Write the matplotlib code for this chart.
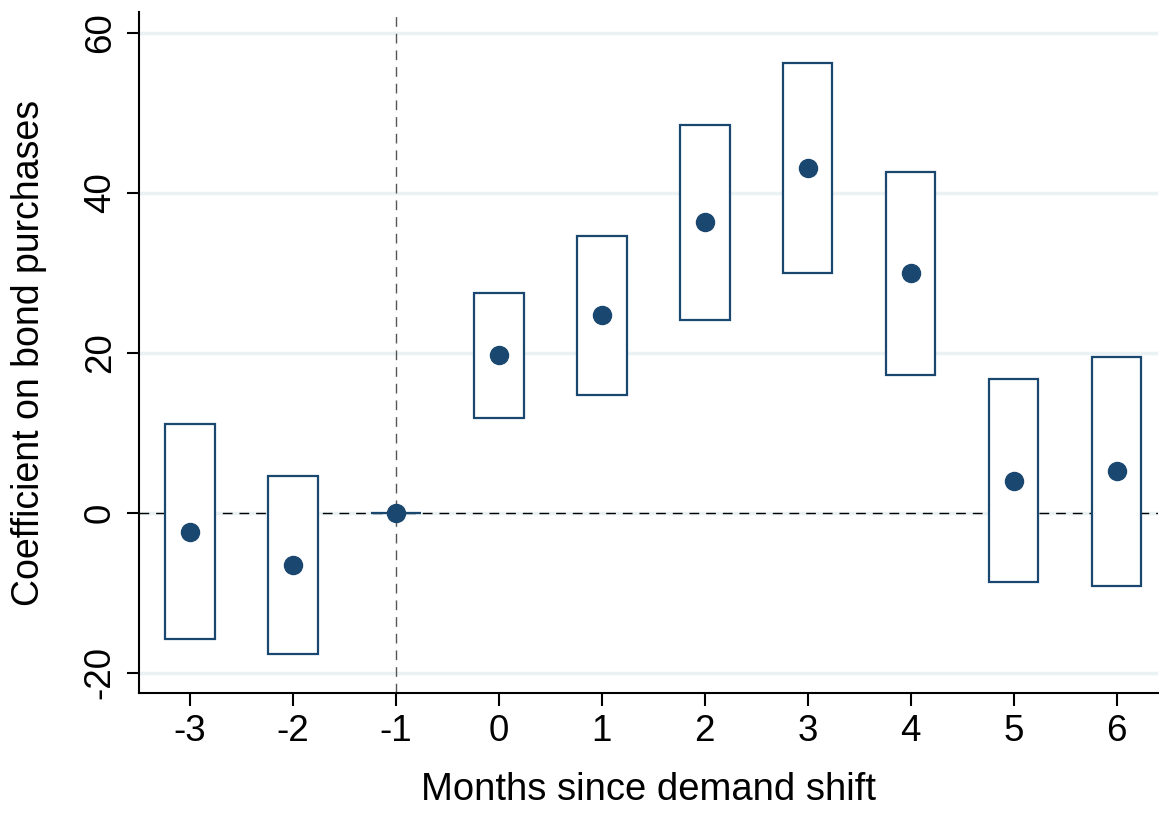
import matplotlib
matplotlib.use("Agg")
import matplotlib.pyplot as plt

months = [-3, -2, -1, 0, 1, 2, 3, 4, 5, 6]
coef = [-2.4, -6.5, 0.0, 19.75, 24.75, 36.4, 43.1, 30.0, 4.0, 5.25]
ci_low = [-15.75, -17.6, 0.0, 11.9, 14.75, 24.1, 30.0, 17.25, -8.6, -9.1]
ci_high = [11.1, 4.6, 0.0, 27.5, 34.6, 48.5, 56.25, 42.6, 16.75, 19.5]
yticks = [-20, 0, 20, 40, 60]

navy = "#1a476f"
plt.rcParams["font.family"] = ["Liberation Sans", "DejaVu Sans"]

fig = plt.figure(figsize=(11.59, 8.13), dpi=100)
ax = fig.add_axes([0.1195, 0.1476, 0.8795, 0.8376])

ax.set_xlim(-3.5, 6.4)
ax.set_ylim(-22.5, 62.6)

for yt in yticks:
    ax.axhline(yt, color="#eaf2f3", lw=2.5, zorder=0)
ax.axhline(0, color="black", lw=1.0, ls=(0, (7, 5)), zorder=1)
ax.axvline(-1, color="#555555", lw=1.0, ls=(0, (7, 5)), zorder=1)

heights = [h - l for h, l in zip(ci_high, ci_low)]
ax.bar(months, heights, bottom=ci_low, width=0.48, facecolor="white",
       edgecolor=navy, linewidth=1.6, zorder=2)
ax.plot(months, coef, "o", color=navy, markersize=13, zorder=3)

ax.set_xticks(months)
ax.set_xticklabels([str(m) for m in months])
ax.set_yticks(yticks)
ax.set_yticklabels([str(v) for v in yticks], rotation=90, va="center")

for side in ["top", "right"]:
    ax.spines[side].set_visible(False)
for side in ["left", "bottom"]:
    ax.spines[side].set_linewidth(1.5)
ax.tick_params(axis="both", length=9, width=1.5, labelsize=26.5, pad=6)

ax.set_xlabel("Months since demand shift", fontsize=27.5, labelpad=17)
ax.set_ylabel("Coefficient on bond purchases", fontsize=27, labelpad=26)

fig.savefig("out.png", dpi=100)
